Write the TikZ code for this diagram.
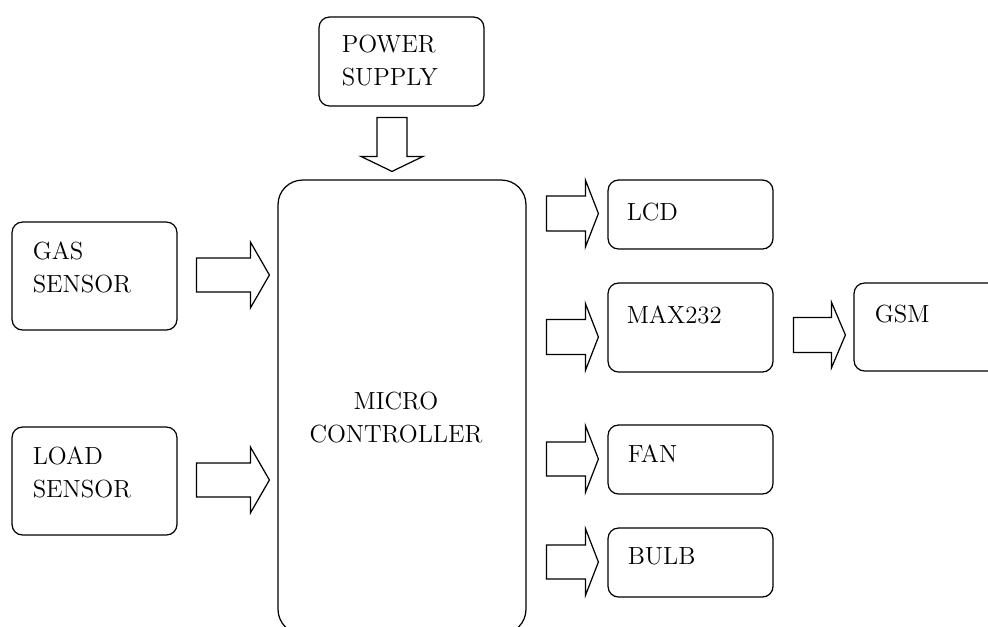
\documentclass[tikz,border=0pt]{standalone}
\usepackage{tikz}
\usetikzlibrary{positioning, calc}
\tikzset{
  box/.style={rectangle, draw=black, rounded corners=6pt,
    minimum width=3.3cm, inner sep=0pt, line width=0.7pt},
  mcubox/.style={rectangle, draw=black, rounded corners=14pt,
    minimum width=4.96cm, minimum height=9.08cm, inner sep=0pt, line width=0.7pt},
  lbl/.style={anchor=north west, inner sep=0pt, align=left,
    font=\fontsize{14.1}{18.8}\selectfont},
  fatarrow/.style={draw=black, fill=white, line width=0.7pt, line join=miter}
}
% block arrow pointing right: tail, tip, shaft half width, head half width, head length
\newcommand{\fatright}[5]{%
  \draw[fatarrow] ($(#1)+(0,#3)$) -- ($(#2)+(-#5,#3)$) -- ($(#2)+(-#5,#4)$) -- (#2)
    -- ($(#2)+(-#5,-#4)$) -- ($(#2)+(-#5,-#3)$) -- ($(#1)+(0,-#3)$) -- cycle;}
% block arrow pointing down
\newcommand{\fatdown}[5]{%
  \draw[fatarrow] ($(#1)+(#3,0)$) -- ($(#2)+(#3,-#5)$) -- ($(#2)+(#4,-#5)$) -- (#2)
    -- ($(#2)+(-#4,-#5)$) -- ($(#2)+(-#3,-#5)$) -- ($(#1)+(-#3,0)$) -- cycle;}

\begin{document}
\begin{tikzpicture}[x=0.02cm, y=-0.02cm]
  \useasboundingbox (0,0) rectangle (988,626);
  \clip (0,0) rectangle (988,626);

  % Blocks
  \node[box, minimum height=1.78cm] (power) at (401.5,61.5) {};
  \node[mcubox] (micro) at (402,407) {};
  \node[box, minimum height=2.16cm] (gas) at (94.5,276) {};
  \node[box, minimum height=2.16cm] (load) at (94.5,481) {};
  \node[box, minimum height=1.38cm] (lcd) at (690.5,214.5) {};
  \node[box, minimum height=1.78cm] (max) at (690.5,327.5) {};
  \node[box, minimum height=1.76cm] (gsm) at (936.5,327) {};
  \node[box, minimum height=1.38cm] (fan) at (690.5,459.5) {};
  \node[box, minimum height=1.38cm] (bulb) at (690.5,562.5) {};

  % Labels
  \node[lbl] (powertxt) at ($(power.north west)+(23,18)$) {POWER\\SUPPLY};
  \node[lbl, anchor=center, align=center] (microtxt) at ($(micro.center)+(-6,11)$) {MICRO\\CONTROLLER};
  \node[lbl] (gastxt) at ($(gas.north west)+(21,20)$) {GAS\\SENSOR};
  \node[lbl] (loadtxt) at ($(load.north west)+(21,20)$) {LOAD\\SENSOR};
  \node[lbl] (lcdtxt) at ($(lcd.north west)+(19,23)$) {LCD};
  \node[lbl] (maxtxt) at ($(max.north west)+(19,23)$) {MAX232};
  \node[lbl] (gsmtxt) at ($(gsm.north west)+(21,22)$) {GSM};
  \node[lbl] (fantxt) at ($(fan.north west)+(20,20)$) {FAN};
  \node[lbl] (bulbtxt) at ($(bulb.north west)+(20,20)$) {BULB};

  % Arrow ends
  \coordinate (power-tail) at ($(power.south)+(-9.5,11)$);
  \coordinate (power-tip) at ($(power-tail |- micro.north)+(0,-8)$);
  \coordinate (gas-tail) at ($(gas.east)+(19,-1)$);
  \coordinate (gas-tip) at ($(micro.west |- gas-tail)+(-8,0)$);
  \coordinate (load-tail) at ($(load.east)+(19,-1)$);
  \coordinate (load-tip) at ($(micro.west |- load-tail)+(-8,0)$);
  \coordinate (lcd-tip) at ($(lcd.west)+(-9,-1)$);
  \coordinate (lcd-tail) at ($(micro.east |- lcd-tip)+(20,0)$);
  \coordinate (max-tip) at ($(max.west)+(-9,9.5)$);
  \coordinate (max-tail) at ($(micro.east |- max-tip)+(20,0)$);
  \coordinate (gsm-tip) at ($(gsm.west)+(-8,8)$);
  \coordinate (gsm-tail) at ($(max.east |- gsm-tip)+(20,0)$);
  \coordinate (fan-tip) at ($(fan.west)+(-9,-0.5)$);
  \coordinate (fan-tail) at ($(micro.east |- fan-tip)+(20,0)$);
  \coordinate (bulb-tip) at ($(bulb.west)+(-9,-0.5)$);
  \coordinate (bulb-tail) at ($(micro.east |- bulb-tip)+(20,0)$);

  % Block arrows
  \fatdown{power-tail}{power-tip}{15}{31}{15}
  \fatright{gas-tail}{gas-tip}{17}{33}{19}
  \fatright{load-tail}{load-tip}{17}{33}{19}
  \fatright{lcd-tail}{lcd-tip}{17.5}{33.5}{13}
  \fatright{max-tail}{max-tip}{17.5}{33.5}{13}
  \fatright{gsm-tail}{gsm-tip}{17.5}{33}{14}
  \fatright{fan-tail}{fan-tip}{17}{33.5}{13}
  \fatright{bulb-tail}{bulb-tip}{17}{33.5}{13}
\end{tikzpicture}
\end{document}
